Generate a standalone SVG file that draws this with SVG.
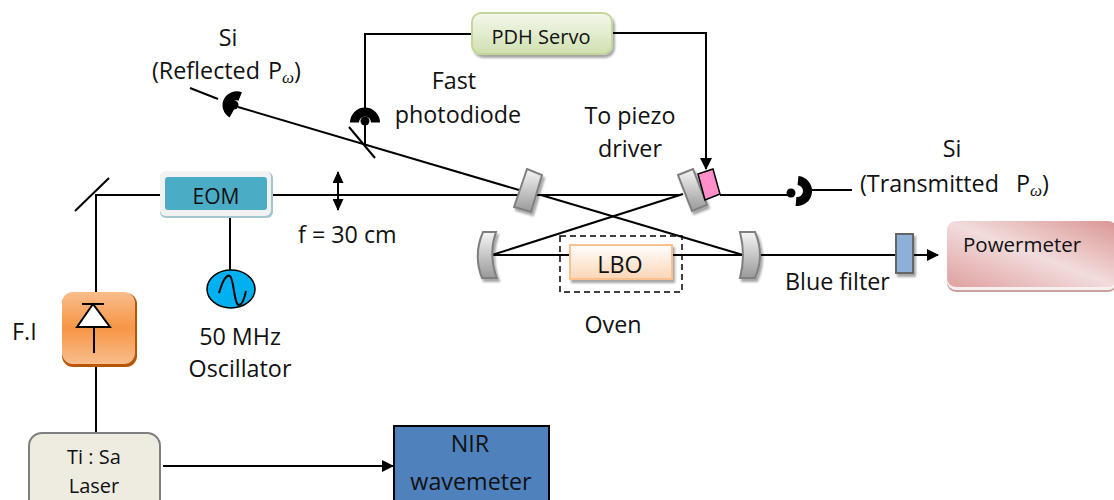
<svg xmlns="http://www.w3.org/2000/svg" width="1114" height="500" viewBox="0 0 1114 500">
<style>
text{font-family:"Open Sans","Noto Sans","DejaVu Sans",sans-serif;fill:#111;font-size:23.300px}
.m{text-anchor:middle}
.s{font-size:20px}
.w{font-family:"Liberation Serif",serif;font-style:italic;font-size:17px}
.l{fill:none;stroke:#000;stroke-width:2}
.d{fill:none;stroke:#000;stroke-width:9}
.mir{fill:url(#gm);stroke:#7f7f7f;stroke-width:2;filter:url(#sh)}
</style>
<defs>
<linearGradient id="gm" x1="0" y1="0" x2="0" y2="1"><stop offset="0" stop-color="#f5f5f5"/><stop offset="1" stop-color="#999"/></linearGradient>
<linearGradient id="gf" x1="0" y1="0" x2="0" y2="1"><stop offset="0" stop-color="#f9bd8c"/><stop offset=".5" stop-color="#f79646"/><stop offset="1" stop-color="#f9bd8c"/></linearGradient>
<linearGradient id="gl" x1="0" y1="0" x2="0" y2="1"><stop offset="0" stop-color="#fff"/><stop offset="1" stop-color="#fbd5b5"/></linearGradient>
<linearGradient id="gp" x1="0" y1="0" x2="0" y2="1"><stop offset="0" stop-color="#f5f8ec"/><stop offset="1" stop-color="#cfe0b0"/></linearGradient>
<linearGradient id="gw" x1="0" y1="1" x2="1" y2="0"><stop offset="0" stop-color="#dfa0a0"/><stop offset=".5" stop-color="#f2dcdc"/><stop offset="1" stop-color="#d99694"/></linearGradient>
<filter id="sh" x="-20%" y="-20%" width="150%" height="150%"><feDropShadow dx="2" dy="3" stdDeviation="1" flood-color="#000" flood-opacity=".35"/></filter>
<marker id="a" markerWidth="12" markerHeight="12" refX="11" refY="6" orient="auto" markerUnits="userSpaceOnUse"><path d="M0 0L12 6L0 12z" fill="#000"/></marker>
<marker id="a2" markerWidth="12" markerHeight="11" refX="11" refY="5.500" orient="auto-start-reverse" markerUnits="userSpaceOnUse"><path d="M0 0L12 5.500L0 11z" fill="#000"/></marker>
</defs>

<g id="connectors">
<path class="l" d="M96 292V195H160"/>
<path class="l" d="M75 211L109 178"/>
<path class="l" d="M96 366V433"/>
<path class="l" d="M271 195H680"/>
<path class="l" d="M230 213V270"/>
<path class="l" d="M338 172V210" marker-start="url(#a2)" marker-end="url(#a2)"/>
<path class="l" d="M190 88L218 99"/>
<path class="l" d="M238 107L519 190"/>
<path class="l" d="M349 127L375 158"/>
<path class="l" d="M365 125V145"/>
<path class="l" d="M365 108V34H471"/>
<path class="l" d="M612 33H706V169" marker-end="url(#a)"/>
<path class="l" d="M541 195L743 255"/>
<path class="l" d="M683 194L492 255"/>
<path class="l" d="M492 255H570M672 255H743"/>
<path class="l" d="M759 255H896"/>
<path class="l" d="M913 255H938" marker-end="url(#a)"/>
<path class="l" d="M720 195H790"/>
<path class="l" d="M812 190H852"/>
<path class="l" d="M163 466H393" marker-end="url(#a)"/>
<rect x="560" y="236" width="122" height="56" fill="none" stroke="#000" stroke-width="1.500" stroke-dasharray="6 4"/>
</g>

<g id="mirror-1"><path class="mir" d="M527 169L542 175L531 212L514 207z"/></g>
<g id="mirror-2"><path class="mir" d="M678 175L693 169L707 205L692 211z"/></g>
<g id="piezo"><path d="M698 174L713 169L720 194L705 200z" fill="#ff8fc8" stroke="#000" stroke-width="1.500"/></g>
<g id="mirror-3"><path class="mir" d="M483 232H496Q488 255 497 278H482Q473 255 483 232z"/></g>
<g id="mirror-4"><path class="mir" d="M740 232H755Q765 255 755 278H740Q746 255 740 232z"/></g>

<g id="det-reflected"><path class="d" d="M231.800 113.500A9.500 9.500 0 0 1 240.200 96.500"/><circle cx="234" cy="105" r="4.500"/></g>
<g id="det-fast"><path class="d" d="M354.500 122.500A10.500 10.500 0 0 1 375.500 122.500"/><circle cx="365" cy="121" r="4.500"/></g>
<g id="det-transmitted"><circle cx="791" cy="193" r="4.500"/><path class="d" d="M798 180.500A10.500 10.500 0 0 1 796 201.500"/></g>

<g id="eom">
<rect x="160" y="172" width="113" height="46" rx="6" fill="#a3c6cf"/>
<rect x="160" y="171" width="111" height="45" rx="6" fill="#f2f2f2"/>
<rect x="165" y="177" width="102" height="33" rx="3" fill="#4bacc6"/>
<text class="m" x="216" y="204" style="font-size:21px">EOM</text>
</g>
<g id="pdh">
<rect x="472" y="13" width="140" height="41" rx="9" fill="url(#gp)" stroke="#c3d69b" stroke-width="2" filter="url(#sh)"/>
<text class="m s" x="541" y="44">PDH Servo</text>
</g>
<g id="lbo">
<rect x="570" y="245" width="102" height="34" fill="url(#gl)" stroke="#fac090" stroke-width="2" filter="url(#sh)"/>
<text class="m" x="620" y="273">LBO</text>
</g>
<g id="filter"><rect x="896" y="234" width="17" height="39" fill="#8eb0d8" stroke="#666" stroke-width="2" filter="url(#sh)"/></g>
<g id="powermeter">
<rect x="947" y="222" width="170" height="70" rx="9" fill="#c9a0a0"/>
<rect x="947" y="221" width="170" height="69" rx="9" fill="#f8f0f0"/>
<rect x="947" y="221" width="170" height="66" rx="9" fill="url(#gw)"/>
<text x="963" y="252" style="font-size:20.500px">Powermeter</text>
</g>
<g id="fi">
<rect x="62" y="293" width="75" height="74" rx="11" fill="#b65708"/>
<rect x="62" y="292" width="73" height="72" rx="11" fill="url(#gf)"/>
<path d="M93 304L77 327H110z" fill="#fff" stroke="#000" stroke-width="2"/>
<path class="l" d="M82 304H104M94 327V353"/>
</g>
<g id="oscillator">
<ellipse cx="231" cy="289" rx="24" ry="19" fill="#00b0f0" stroke="#000" stroke-width="1.500"/>
<path class="l" d="M219 293Q225 273 230 276C234 279 234 305 239 305Q243 305 246 291"/>
</g>
<g id="laser">
<rect x="29" y="433" width="131" height="80" rx="13" fill="#eeece1" stroke="#7f7f7f" stroke-width="2"/>
<text class="m s" x="94" y="464">Ti : Sa</text>
<text class="m s" x="94" y="493">Laser</text>
</g>
<g id="wavemeter">
<rect x="394" y="426" width="155" height="78" fill="#4f81bd" stroke="#000" stroke-width="2"/>
<text class="m" x="470" y="452">NIR</text>
<text class="m" x="471" y="490">wavemeter</text>
</g>

<g id="labels">
<text class="m" x="228" y="46">Si</text>
<text x="152" y="79">(Reflected <tspan dx="2">P</tspan><tspan class="w" dy="4">ω</tspan><tspan dy="-4">)</tspan></text>
<text class="m" x="454" y="89">Fast</text>
<text class="m" x="458" y="123">photodiode</text>
<text class="m" x="630" y="124">To piezo</text>
<text class="m" x="630" y="157">driver</text>
<text class="m" x="952" y="157">Si</text>
<text x="860" y="192">(Transmitted <tspan dx="11">P</tspan><tspan class="w" dy="4">ω</tspan><tspan dy="-4">)</tspan></text>
<text x="298" y="243">f = 30 cm</text>
<text class="m" x="613" y="333">Oven</text>
<text x="785" y="290">Blue filter</text>
<text x="12" y="340">F.I</text>
<text class="m" x="240" y="345">50 MHz</text>
<text class="m" x="240" y="377">Oscillator</text>
</g>
</svg>
